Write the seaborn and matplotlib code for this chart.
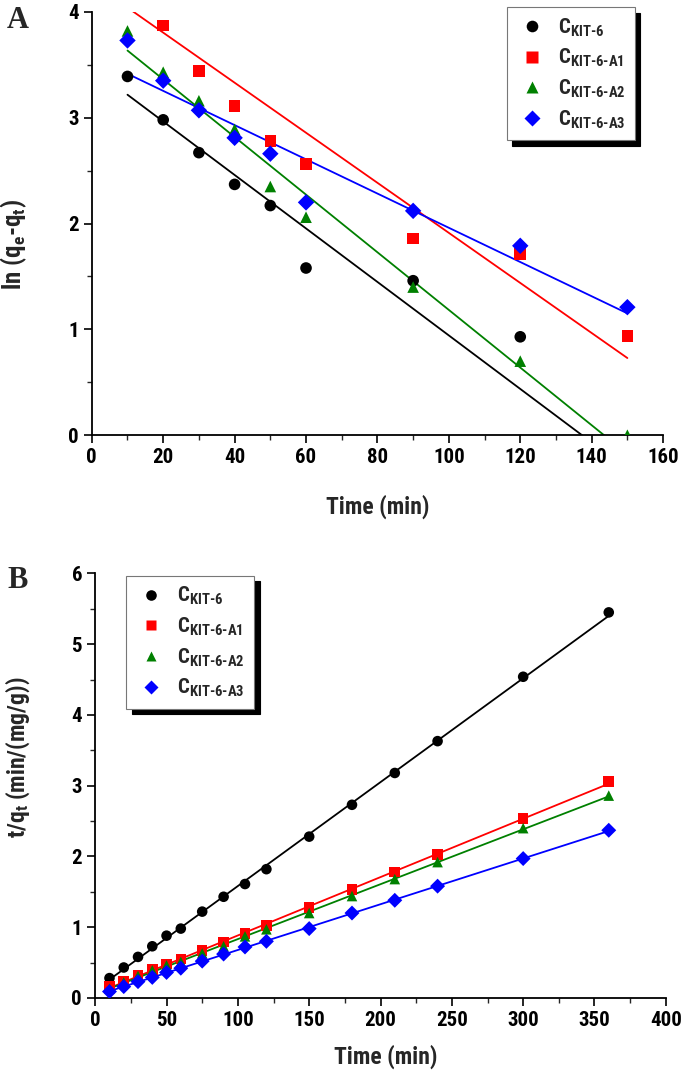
import numpy as np
import pandas as pd
import matplotlib
matplotlib.use('Agg')
import matplotlib.pyplot as plt
from matplotlib import font_manager
from matplotlib.ticker import MultipleLocator
import seaborn as sns

# ---- data ----
samples = ['C_KIT-6', 'C_KIT-6-A1', 'C_KIT-6-A2', 'C_KIT-6-A3']
labels = [r'C$_{KIT\text{-}6}$', r'C$_{KIT\text{-}6\text{-}A1}$',
          r'C$_{KIT\text{-}6\text{-}A2}$', r'C$_{KIT\text{-}6\text{-}A3}$']
colors = ['black', '#ff0000', '#008000', '#0000ff']
markers = ['o', 's', '^', 'D']

# panel A: pseudo-first-order, ln(qe-qt) vs time
time_a = {
    'C_KIT-6': [10, 20, 30, 40, 50, 60, 90, 120],
    'C_KIT-6-A1': [20, 30, 40, 50, 60, 90, 120, 150],
    'C_KIT-6-A2': [10, 20, 30, 40, 50, 60, 90, 120, 150],
    'C_KIT-6-A3': [10, 20, 30, 40, 50, 60, 90, 120, 150],
}
lnq_kit6 = [3.39, 2.98, 2.67, 2.37, 2.17, 1.58, 1.46, 0.93]
lnq_a1 = [3.87, 3.44, 3.11, 2.78, 2.56, 1.86, 1.71, 0.94]
lnq_a2 = [3.82, 3.43, 3.16, 2.89, 2.35, 2.06, 1.40, 0.70, 0.00]
lnq_a3 = [3.73, 3.35, 3.07, 2.81, 2.66, 2.20, 2.12, 1.79, 1.21]
# fitted lines as drawn in the figure (slope, intercept)
fit_slope_a = [-0.02527, -0.02365, -0.02723, -0.01617]
fit_icpt_a = [3.47, 4.277, 3.907, 3.577]
fit_range_a = [10, 150]

# panel B: pseudo-second-order, t/qt vs time
time_b = [10, 20, 30, 40, 50, 60, 75, 90, 105, 120, 150, 180, 210, 240, 300, 360]
tq_kit6 = [0.28, 0.43, 0.58, 0.73, 0.88, 0.98, 1.22, 1.43, 1.61, 1.82, 2.28, 2.73,
           3.18, 3.63, 4.54, 5.45]
tq_a1 = [0.16, 0.24, 0.32, 0.40, 0.48, 0.55, 0.67, 0.79, 0.91, 1.02, 1.28, 1.53,
         1.78, 2.03, 2.54, 3.06]
tq_a2 = [0.13, 0.22, 0.31, 0.39, 0.46, 0.51, 0.63, 0.73, 0.87, 0.97, 1.20, 1.44,
         1.68, 1.92, 2.40, 2.86]
tq_a3 = [0.09, 0.16, 0.23, 0.29, 0.36, 0.42, 0.52, 0.62, 0.72, 0.80, 0.98, 1.20,
         1.38, 1.58, 1.97, 2.37]

df_a = pd.concat([pd.DataFrame({'time': time_a[s], 'val': v, 'sample': s})
                  for s, v in zip(samples, [lnq_kit6, lnq_a1, lnq_a2, lnq_a3])])
df_b = pd.concat([pd.DataFrame({'time': time_b, 'val': v, 'sample': s})
                  for s, v in zip(samples, [tq_kit6, tq_a1, tq_a2, tq_a3])])

# pick a condensed sans if one is around, else plain Liberation Sans
installed = {f.name for f in font_manager.fontManager.ttflist}
main_font = 'Liberation Sans'
for cand in ['Liberation Sans Narrow', 'Roboto Condensed', 'Open Sans Condensed',
             'DejaVu Sans Condensed']:
    if cand in installed:
        main_font = cand
        break

sns.set_style('ticks')
plt.rcParams['font.family'] = [main_font, 'DejaVu Sans']
plt.rcParams['font.weight'] = 'bold'
plt.rcParams['mathtext.fontset'] = 'custom'
plt.rcParams['mathtext.rm'] = main_font + ':bold'
plt.rcParams['mathtext.it'] = main_font + ':bold'
plt.rcParams['mathtext.bf'] = main_font + ':bold'
plt.rcParams['mathtext.default'] = 'rm'

pal = dict(zip(samples, colors))
mk = dict(zip(samples, markers))

fig = plt.figure(figsize=(6.85, 10.8), dpi=100)
ax_a = fig.add_axes([0.134, 0.597, 0.834, 0.392])
ax_b = fig.add_axes([0.139, 0.076, 0.833, 0.393])


def style_axis(ax):
    for side in ['top', 'right']:
        ax.spines[side].set_visible(False)
    for side in ['left', 'bottom']:
        ax.spines[side].set_linewidth(1.3)
        ax.spines[side].set_color('black')
    ax.tick_params(which='major', direction='out', length=6, width=1.2,
                   labelsize=15, colors='black')
    ax.tick_params(which='minor', direction='out', length=3.5, width=1.0)
    for lab in ax.get_xticklabels() + ax.get_yticklabels():
        lab.set_fontweight('bold')


def add_legend(ax, anchor, fs):
    handles, _ = ax.get_legend_handles_labels()
    leg = ax.legend(handles[:4], labels, loc='upper left', bbox_to_anchor=anchor,
                    bbox_transform=fig.transFigure, borderaxespad=0, fontsize=fs,
                    frameon=True, fancybox=False, edgecolor='#777777',
                    framealpha=1, labelspacing=0.4, handletextpad=0.5,
                    handlelength=1.5, borderpad=0.45, markerscale=1.0,
                    shadow={'ox': 4, 'oy': -4, 'color': 'black', 'alpha': 1})
    leg.get_frame().set_linewidth(0.8)
    return leg


# ---- panel A ----
xa = np.array(fit_range_a, dtype=float)
for s, m, b in zip(samples, fit_slope_a, fit_icpt_a):
    ax_a.plot(xa, m * xa + b, color=pal[s], lw=1.3, zorder=2)
sns.scatterplot(data=df_a, x='time', y='val', hue='sample', style='sample',
                palette=pal, markers=mk, s=70, edgecolor='none', ax=ax_a,
                legend=True, zorder=3)
ax_a.set_xlim(0, 160)
ax_a.set_ylim(0, 4)
ax_a.xaxis.set_major_locator(MultipleLocator(20))
ax_a.xaxis.set_minor_locator(MultipleLocator(10))
ax_a.yaxis.set_major_locator(MultipleLocator(1))
ax_a.yaxis.set_minor_locator(MultipleLocator(0.5))
ax_a.set_xlabel('Time (min)', fontsize=17, fontweight='bold')
ax_a.set_ylabel(r'ln (q$_e$-q$_t$)', fontsize=18, fontweight='bold')
ax_a.xaxis.set_label_coords(0.5, -0.14)
ax_a.yaxis.set_label_coords(-0.11, 0.45)
style_axis(ax_a)
add_legend(ax_a, (0.740, 0.9935), 15)

# ---- panel B ----
for s in samples:
    sub = df_b[df_b['sample'] == s]
    k, c = np.polyfit(sub['time'], sub['val'], 1)
    xb = np.array([sub['time'].min(), sub['time'].max()], dtype=float)
    ax_b.plot(xb, k * xb + c, color=pal[s], lw=1.3, zorder=2)
sns.scatterplot(data=df_b, x='time', y='val', hue='sample', style='sample',
                palette=pal, markers=mk, s=58, edgecolor='none', ax=ax_b,
                legend=True, zorder=3)
ax_b.set_xlim(0, 400)
ax_b.set_ylim(0, 6)
ax_b.xaxis.set_major_locator(MultipleLocator(50))
ax_b.xaxis.set_minor_locator(MultipleLocator(25))
ax_b.yaxis.set_major_locator(MultipleLocator(1))
ax_b.yaxis.set_minor_locator(MultipleLocator(0.5))
ax_b.set_xlabel('Time (min)', fontsize=17, fontweight='bold')
ax_b.set_ylabel(r't/q$_t$ (min/(mg/g))', fontsize=17, fontweight='bold')
ax_b.xaxis.set_label_coords(0.51, -0.11)
ax_b.yaxis.set_label_coords(-0.11, 0.567)
style_axis(ax_b)
add_legend(ax_b, (0.184, 0.467), 15)

fig.text(18 / 685, 1 - 20 / 1080, 'A', family='Liberation Serif', fontsize=22,
         fontweight='bold', ha='center', va='center')
fig.text(18 / 685, 1 - 580 / 1080, 'B', family='Liberation Serif', fontsize=22,
         fontweight='bold', ha='center', va='center')

fig.savefig('out.png', dpi=100)
